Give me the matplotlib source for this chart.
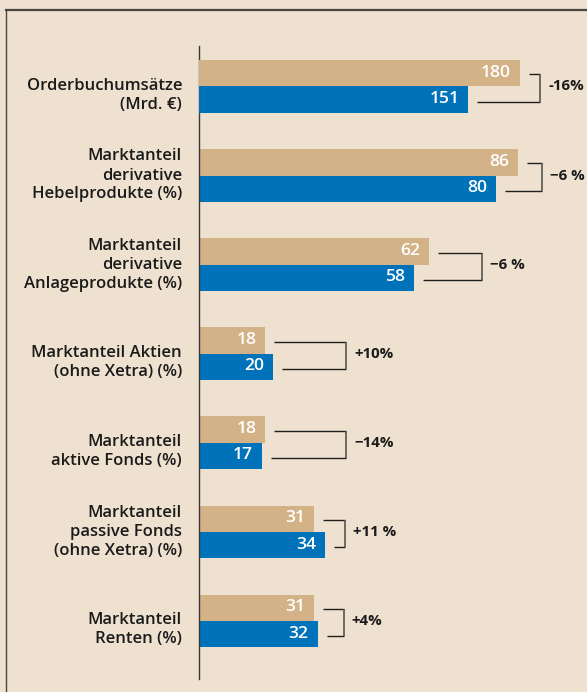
import matplotlib
matplotlib.use("Agg")
import matplotlib.pyplot as plt
from matplotlib.lines import Line2D

# ---- data ----
categories = [
    "Orderbuchumsätze\n(Mrd. €)",
    "Marktanteil\nderivative\nHebelprodukte (%)",
    "Marktanteil\nderivative\nAnlageprodukte (%)",
    "Marktanteil Aktien\n(ohne Xetra) (%)",
    "Marktanteil\naktive Fonds (%)",
    "Marktanteil\npassive Fonds\n(ohne Xetra) (%)",
    "Marktanteil\nRenten (%)",
]
previous = [180, 86, 62, 18, 18, 31, 31]
current = [151, 80, 58, 20, 17, 34, 32]
changes = ["-16%", "−6 %", "−6 %", "+10%", "−14%", "+11 %", "+4%"]

# ---- style / layout ----
BG = "#eee1cf"
TAN = "#d4b287"
BLUE = "#0072b9"
LINE = "#3a3a36"
W, H = 587, 692
DPI = 100
FONT = "Open Sans"
bracket_extra_px = [20, 24, 53, 73, 81, 20, 26]   # bracket distance beyond longer bar
PX_PCT = 3.72     # px per percent unit
PX_MRD = 1.787    # px per Mrd. EUR

plt.rcParams["font.family"] = [FONT, "DejaVu Sans"]

fig = plt.figure(figsize=(W / DPI, H / DPI), dpi=DPI, facecolor=BG)

ax_left, ax_right, ax_top, ax_bot = 198.5, 587.0, 46.0, 679.0
ax = fig.add_axes([ax_left / W, 1 - ax_bot / H, (ax_right - ax_left) / W, (ax_bot - ax_top) / H])
ax.set_facecolor("none")
ax_px = ax_right - ax_left

# y scale: 1 unit = group spacing
GROUP_PX = 89.1
first_center = 86.4
ymin = (ax_top - first_center) / GROUP_PX
ymax = (ax_bot - first_center) / GROUP_PX
ax.set_ylim(ymax, ymin)
ax.set_xlim(0, ax_px / PX_PCT)

ax2 = ax.twiny()
ax2.set_xlim(0, ax_px / PX_MRD)
ax2.set_ylim(ymax, ymin)
for a in (ax, ax2):
    for s in ("top", "right", "bottom"):
        a.spines[s].set_visible(False)
    a.set_xticks([])
    a.set_yticks([])
ax2.spines["left"].set_visible(False)
ax.spines["left"].set_color(LINE)
ax.spines["left"].set_linewidth(1.0)

bh = 26.4 / GROUP_PX
PT = 72.0 / DPI  # points per pixel

for i, (cat, p, c, ch) in enumerate(zip(categories, previous, current, changes)):
    a = ax2 if i == 0 else ax
    ppu = PX_MRD if i == 0 else PX_PCT
    yt = i - bh / 2
    yb = i + bh / 2
    a.barh([yt], [p], height=bh, color=TAN, left=0, clip_on=False)
    a.barh([yb], [c], height=bh, color=BLUE, left=0, clip_on=False)
    for v, yy in ((p, yt), (c, yb)):
        a.annotate(str(v), xy=(v, yy), xytext=(-9 * PT, 0.5 * PT), textcoords="offset points",
                   ha="right", va="center", color="white", fontsize=12.6,
                   fontweight="semibold")
    # bracket
    bx = max(p, c) + bracket_extra_px[i] / ppu
    gap = 9 / ppu
    ly_t = yt + 1.2 / GROUP_PX
    ly_b = yb + 2.0 / GROUP_PX
    a.plot([p + gap, bx], [ly_t, ly_t], color="#1e1e1e", lw=1.0, clip_on=False,
           solid_capstyle="butt")
    a.plot([c + gap, bx], [ly_b, ly_b], color="#1e1e1e", lw=1.0, clip_on=False,
           solid_capstyle="butt")
    a.plot([bx, bx], [ly_t, ly_b], color="#555550", lw=1.2, clip_on=False,
           solid_capstyle="butt")
    a.annotate(ch, xy=(bx, i), xytext=(8 * PT, 0), textcoords="offset points",
               ha="left", va="center", fontsize=10.8, fontweight="bold", color="#1a1a1a")
    # category label
    nlines = cat.count("\n") + 1
    dy = -9 if nlines == 2 else 0
    ax.annotate(cat, xy=(0, i), xytext=(-16.5 * PT, dy * PT), textcoords="offset points",
                ha="right", va="center", ma="right", fontsize=12.0, fontweight="semibold",
                color="#1a1a1a", linespacing=1.25)

# frame (top and left edges)
fig.add_artist(Line2D([5.6 / W, 1.0], [1 - 10 / H, 1 - 10 / H], transform=fig.transFigure,
                      color="#4a4740", lw=1.6))
fig.add_artist(Line2D([5.6 / W, 5.6 / W], [0, 1 - 10 / H], transform=fig.transFigure,
                      color="#4a4740", lw=1.0))

fig.savefig("out.png", dpi=DPI, facecolor=BG)
